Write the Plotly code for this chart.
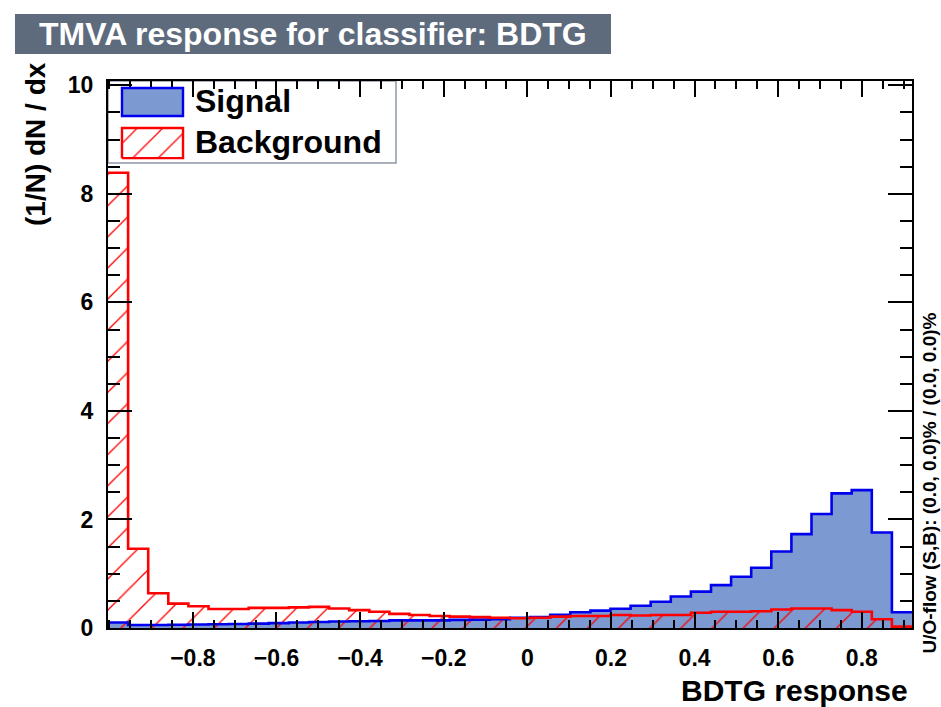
import numpy as np
import plotly.graph_objects as go

# ---------------- data ----------------
XMIN, XMAX = -1.003, 0.920
signal = [0.10, 0.055, 0.055, 0.06, 0.065, 0.07, 0.075, 0.08, 0.09, 0.10,
          0.11, 0.12, 0.125, 0.13, 0.14, 0.14, 0.14, 0.15, 0.155, 0.16,
          0.19, 0.20, 0.245, 0.29, 0.32, 0.355, 0.41, 0.485, 0.58, 0.67,
          0.79, 0.945, 1.11, 1.41, 1.73, 2.10, 2.48, 2.54, 1.76, 0.29]
background = [8.39, 1.46, 0.64, 0.45, 0.40, 0.35, 0.35, 0.37, 0.37, 0.38,
              0.39, 0.36, 0.33, 0.30, 0.26, 0.24, 0.22, 0.21, 0.20, 0.19,
              0.18, 0.19, 0.21, 0.22, 0.22, 0.24, 0.23, 0.24, 0.24, 0.28,
              0.30, 0.30, 0.31, 0.34, 0.36, 0.36, 0.33, 0.30, 0.16, 0.025]
x_ticks = [-0.8, -0.6, -0.4, -0.2, 0, 0.2, 0.4, 0.6, 0.8]
y_ticks = [0, 2, 4, 6, 8, 10]
YMAX = 10.08

title_text = "TMVA response for classifier: BDTG"
x_title = "BDTG response"
y_title = "(1/N) dN / dx"
flow_text = "U/O-flow (S,B): (0.0, 0.0)% / (0.0, 0.0)%"
legend_labels = ["Signal", "Background"]

# ---------------- styles ----------------
FONT = "Liberation Sans, Arial, Helvetica, sans-serif"
SIG_FILL = "#7d99d1"
SIG_LINE = "#0000ee"
BKG_LINE = "#ff0000"

nb = len(signal)
edges = np.linspace(XMIN, XMAX, nb + 1)
centers = 0.5 * (edges[:-1] + edges[1:])
bw = edges[1] - edges[0]

fig = go.Figure()
fig.add_bar(x=centers, y=signal, width=bw,
            marker=dict(color=SIG_FILL, line_width=0), hoverinfo="skip")
fig.add_scatter(x=edges, y=list(signal) + [signal[-1]], mode="lines",
                line=dict(color=SIG_LINE, width=2.6, shape="hv"), hoverinfo="skip")
fig.add_bar(x=centers, y=background, width=bw,
            marker=dict(color="rgba(0,0,0,0)", line_width=0,
                        pattern=dict(shape="/", fgcolor=BKG_LINE, bgcolor="rgba(0,0,0,0)",
                                     size=22, solidity=0.06, fillmode="overlay", fgopacity=1)),
            hoverinfo="skip")
fig.add_scatter(x=edges, y=list(background) + [background[-1]], mode="lines",
                line=dict(color=BKG_LINE, width=2.6, shape="hv"), hoverinfo="skip")

# legend swatch (hatched) on an invisible overlay axis in plot-fraction units
fig.add_scatter(x=[0.0174, 0.0933, 0.0933, 0.0174, 0.0174],
                y=[0.859, 0.859, 0.914, 0.914, 0.859],
                xaxis="x2", yaxis="y2", mode="lines", fill="toself",
                fillcolor="rgba(0,0,0,0)",
                fillpattern=dict(shape="/", fgcolor=BKG_LINE, bgcolor="rgba(0,0,0,0)",
                                 size=18, solidity=0.07, fillmode="overlay", fgopacity=1),
                line=dict(color=BKG_LINE, width=2.4), hoverinfo="skip")

W, H = 941, 707
L, R, T, B = 108, 29, 81, 79
PW, PH = W - L - R, H - T - B


def px(xp):
    return (xp - L) / PW


def py(yp):
    return (H - B - yp) / PH


axis_common = dict(showline=True, linewidth=2, linecolor="black", mirror="allticks",
                   ticks="inside", tickcolor="black", tickwidth=1.5,
                   showgrid=False, zeroline=False, ticklabelstandoff=8,
                   tickfont=dict(family=FONT, size=23, color="black", weight="bold"))

fig.update_layout(
    width=W, height=H,
    margin=dict(l=L, r=R, t=T, b=B, pad=0),
    paper_bgcolor="white", plot_bgcolor="white",
    barmode="overlay", bargap=0, showlegend=False,
    xaxis=dict(range=[XMIN, XMAX], tickmode="array", tickvals=x_ticks, ticklen=16,
               minor=dict(tickmode="linear", tick0=0, dtick=0.05, ticklen=8,
                          ticks="inside", tickcolor="black", tickwidth=1.5),
               **axis_common),
    yaxis=dict(range=[0, YMAX], tickmode="array", tickvals=y_ticks, ticklen=24,
               minor=dict(tickmode="linear", tick0=0, dtick=0.5, ticklen=12,
                          ticks="inside", tickcolor="black", tickwidth=1.5),
               **axis_common),
    xaxis2=dict(overlaying="x", range=[0, 1], visible=False, anchor="y2", fixedrange=True),
    yaxis2=dict(overlaying="y", range=[0, 1], visible=False, anchor="x2", fixedrange=True),
)

shapes = [
    # title box
    dict(type="rect", xref="paper", yref="paper", x0=px(15), x1=px(611), y0=py(54), y1=py(14),
         fillcolor="#5d6b7d", line=dict(width=0), layer="above"),
    # legend box
    dict(type="rect", xref="paper", yref="paper", x0=px(108), x1=px(396), y0=py(163), y1=py(81),
         fillcolor="white", line=dict(color="#8f98a5", width=1.5), layer="below"),
    # signal swatch
    dict(type="rect", xref="paper", yref="paper", x0=px(122), x1=px(183), y0=py(116), y1=py(88),
         fillcolor=SIG_FILL, line=dict(color=SIG_LINE, width=2.4), layer="above"),
]
fig.update_layout(shapes=shapes)

ann = [
    dict(text=title_text, x=px(313), y=py(34), font=dict(family=FONT, size=32, color="white", weight="bold"),
         xanchor="center", yanchor="middle"),
    dict(text=legend_labels[0], x=px(193), y=py(101), font=dict(family=FONT, size=32, color="black", weight="bold"),
         xanchor="left", yanchor="middle"),
    dict(text=legend_labels[1], x=px(193), y=py(142), font=dict(family=FONT, size=32, color="black", weight="bold"),
         xanchor="left", yanchor="middle"),
    dict(text=x_title, x=px(910), y=py(690), font=dict(family=FONT, size=30, color="black", weight="bold"),
         xanchor="right", yanchor="middle"),
    dict(text=y_title, x=px(35), y=py(60), textangle=-90,
         font=dict(family=FONT, size=28, color="black", weight="bold"),
         xanchor="center", yanchor="top"),
    dict(text=flow_text, x=px(929), y=py(656), textangle=-90,
         font=dict(family=FONT, size=19, color="black", weight="bold"),
         xanchor="center", yanchor="bottom"),
]
for a in ann:
    a.update(xref="paper", yref="paper", showarrow=False)
fig.update_layout(annotations=ann)

fig.write_html("out.html", config={"displayModeBar": False},
               post_script="document.body.style.margin='0px';document.body.style.padding='0px';")
